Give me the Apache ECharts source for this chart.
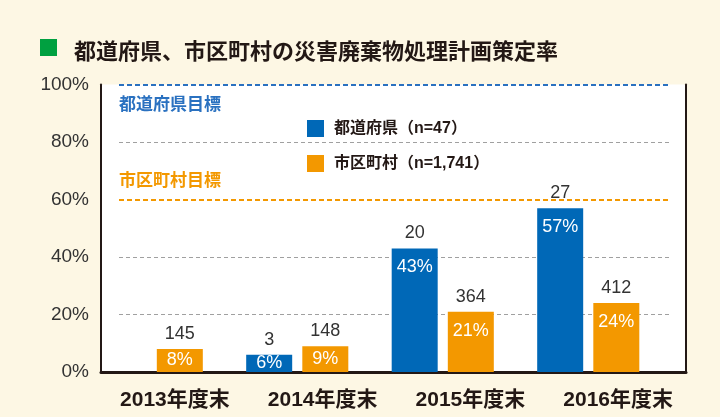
<!DOCTYPE html>
<html>
<head>
<meta charset="utf-8">
<script src="https://cdn.jsdelivr.net/npm/echarts@6/dist/echarts.min.js"></script>
<style>
html,body{margin:0;padding:0;background:#fdf7e4;}
#chart{width:720px;height:417px;}
</style>
</head>
<body>
<div id="chart"></div>
<script>
const titleText = '都道府県、市区町村の災害廃棄物処理計画策定率';
const categories = ['2013年度末', '2014年度末', '2015年度末', '2016年度末'];
const seriesNames = ['都道府県（n=47）', '市区町村（n=1,741）'];
const prefRates = [null, 6, 43, 57];     // %
const muniRates = [8, 9, 21, 24];        // %
const prefCounts = [null, 3, 20, 27];
const muniCounts = [145, 148, 364, 412];
const targetValues = [100, 60];
const targetNames = ['都道府県目標', '市区町村目標'];
const yMin = 0, yMax = 100, yStep = 20;

const FONT = "'Liberation Sans', 'Noto Sans CJK JP', sans-serif";
const BLUE = '#0068b7', ORANGE = '#f39800', DARK = '#231815';
const targetColors = ['#2a71c0', ORANGE];

const chart = echarts.init(document.getElementById('chart'), null, {renderer: 'canvas'});

function rateData(arr) {
  return arr.map(v => v == null ? null : {
    value: v,
    label: v < 12 ? {position: 'inside'} : {position: 'insideTop', distance: 10}
  });
}
function zeroData(arr) { return arr.map(v => v == null ? null : 0); }

const pctLabel = {show: true, color: '#fff', fontSize: 18, fontFamily: FONT, formatter: p => p.value + '%'};
function countLabel(counts) {
  return {show: true, position: 'top', distance: 6, color: '#333', fontSize: 18, fontFamily: FONT,
          formatter: p => counts[p.dataIndex] == null ? '' : String(counts[p.dataIndex])};
}

const option = {
  backgroundColor: '#fdf7e4',
  animation: false,
  textStyle: {fontFamily: FONT},
  title: {
    text: titleText, left: 69, top: 37,
    textStyle: {fontSize: 22, fontWeight: 'bold', color: DARK, fontFamily: FONT}
  },
  graphic: [{type: 'rect', left: 40, top: 39, shape: {width: 17, height: 17}, style: {fill: '#00a040'}}],
  legend: {
    data: seriesNames, orient: 'vertical', left: 302, top: 115,
    itemWidth: 17, itemHeight: 17, itemGap: 18, icon: 'rect',
    textStyle: {fontSize: 16, fontWeight: 'bold', color: DARK, fontFamily: FONT, padding: [0, 0, 0, 5]}
  },
  grid: [
    {left: 101, right: 34, top: 84.5, bottom: 45, show: true, backgroundColor: '#fff', borderWidth: 0},
    {left: 101, right: 28, top: 84.5, bottom: 45},
    {left: 79, right: 59, top: 84.5, bottom: 45},
    {left: 119, right: 50, top: 84.5, bottom: 45}
  ],
  xAxis: [
    {gridIndex: 0, type: 'category', data: categories, axisLine: {lineStyle: {color: DARK, width: 3}},
     axisTick: {show: false}, axisLabel: {show: false}},
    {gridIndex: 1, type: 'category', data: categories, axisLine: {show: false}, axisTick: {show: false},
     axisLabel: {margin: 18, fontSize: 21, fontWeight: 'bold', color: DARK, fontFamily: FONT}},
    {gridIndex: 2, type: 'category', data: categories, show: false},
    {gridIndex: 3, type: 'value', min: 0, max: 1, show: false}
  ],
  yAxis: [
    {gridIndex: 0, type: 'value', min: yMin, max: yMax, interval: yStep,
     axisLine: {show: true, lineStyle: {color: DARK, width: 2}}, axisTick: {show: false},
     axisLabel: {formatter: '{value}%', fontSize: 19, color: '#333', margin: 12, fontFamily: FONT},
     splitLine: {show: false}},
    {gridIndex: 0, type: 'value', position: 'right', min: yMin, max: yMax, interval: yStep,
     axisLine: {show: true, lineStyle: {color: DARK, width: 2}}, axisTick: {show: false},
     axisLabel: {show: false}, splitLine: {show: false}},
    {gridIndex: 1, type: 'value', min: yMin, max: yMax, show: false, splitLine: {show: false}},
    {gridIndex: 2, type: 'value', min: yMin, max: yMax, show: false, splitLine: {show: false}},
    {gridIndex: 3, type: 'value', min: yMin, max: yMax, interval: yStep,
     axisLine: {show: false}, axisTick: {show: false}, axisLabel: {show: false},
     splitLine: {show: true, lineStyle: {type: [4, 3], width: 1,
       color: ['rgba(0,0,0,0)', '#a0a0a0', '#a0a0a0', 'rgba(0,0,0,0)', '#a0a0a0', 'rgba(0,0,0,0)']}}}
  ],
  series: [
    {name: seriesNames[0], type: 'bar', xAxisIndex: 2, yAxisIndex: 3, stack: 'pref',
     barWidth: 46, barGap: '22%', itemStyle: {color: BLUE}, label: pctLabel, data: rateData(prefRates)},
    {name: 'prefCount', type: 'bar', xAxisIndex: 2, yAxisIndex: 3, stack: 'pref',
     barWidth: 46, barGap: '22%', itemStyle: {color: BLUE}, label: countLabel(prefCounts), data: zeroData(prefCounts)},
    {name: seriesNames[1], type: 'bar', xAxisIndex: 2, yAxisIndex: 3, stack: 'muni',
     barWidth: 46, barGap: '22%', itemStyle: {color: ORANGE}, label: pctLabel, data: rateData(muniRates)},
    {name: 'muniCount', type: 'bar', xAxisIndex: 2, yAxisIndex: 3, stack: 'muni',
     barWidth: 46, barGap: '22%', itemStyle: {color: ORANGE}, label: countLabel(muniCounts), data: zeroData(muniCounts)},
    {name: 'targets', type: 'line', xAxisIndex: 3, yAxisIndex: 4, data: [],
     markLine: {
       silent: true, symbol: ['none', 'none'],
       data: targetValues.map((t, i) => ({
         yAxis: t, name: targetNames[i],
         lineStyle: {color: targetColors[i], type: [5, 3], width: 2},
         label: {show: true, formatter: '{b}', color: targetColors[i], fontSize: 17, fontWeight: 'bold',
                 fontFamily: FONT, position: i === 0 ? 'insideStartBottom' : 'insideStartTop',
                 distance: [0, i === 0 ? 12 : 10]}
       }))
     }}
  ]
};
chart.setOption(option);
</script>
</body>
</html>
